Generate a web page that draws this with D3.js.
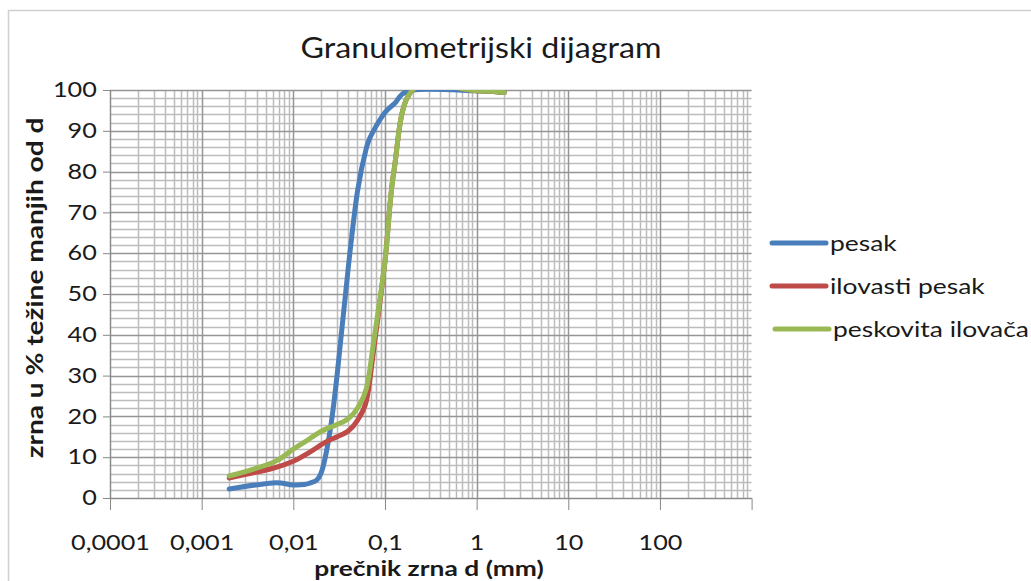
<!DOCTYPE html>
<html>
<head>
<meta charset="utf-8">
<script src="https://cdn.jsdelivr.net/npm/d3@7"></script>
<style>
  body { margin: 0; background: #fff; }
  text { font-family: Lato, "Noto Sans", sans-serif; fill: #1a1a1a; }
</style>
</head>
<body>
<div id="chart"></div>
<script>
// grain diameters (mm) and passing percentages
const diameters = [0.002, 0.006, 0.01, 0.015, 0.02, 0.025, 0.03, 0.04, 0.05, 0.063, 0.075, 0.1, 0.125, 0.2, 1, 2];
const pesak = [2.2, 3.7, 3.2, 3.6, 6, 16, 30, 57, 75, 86, 90, 94.5, 96.5, 100, 99.8, 99.4];
const ilovastiPesak = [4.9, 7.3, 9, 11.2, 13, 14.2, 15, 16.5, 19, 24, 36, 58, 80, 100, 99.8, 99.4];
const peskovitaIlovaca = [5.4, 8.7, 12, 14.5, 16.3, 17.3, 18, 19.5, 22, 27, 38, 58, 80, 100, 99.8, 99.4];

const seriesNames = ["pesak", "ilovasti pesak", "peskovita ilovača"];
const seriesColors = ["#4a7ebb", "#be4b48", "#98b954"];

const xTickValues = [0.0001, 0.001, 0.01, 0.1, 1, 10, 100];
const xTickLabels = ["0,0001", "0,001", "0,01", "0,1", "1", "10", "100"];
const yTickValues = [0, 10, 20, 30, 40, 50, 60, 70, 80, 90, 100];

const W = 1031, H = 581;
const plot = {left: 110, right: 751.6, top: 90, bottom: 498};
const stretch = 1.2; // the original text is wider than Lato

const svg = d3.select("#chart").append("svg")
    .attr("width", W).attr("height", H);

// outer chart frame
svg.append("rect")
    .attr("x", 8.5).attr("y", 10.5)
    .attr("width", W + 20).attr("height", H + 20)
    .attr("fill", "none").attr("stroke", "#d0d0d0").attr("stroke-width", 1.5);

const x = d3.scaleLog().domain([0.0001, 1000]).range([plot.left, plot.right]);
const y = d3.scaleLinear().domain([0, 100]).range([plot.bottom, plot.top]);

// grid
const grid = svg.append("g");
const yMinor = d3.range(0, 101, 2).filter(v => v % 10 != 0);
grid.selectAll(".hminor").data(yMinor).join("line")
    .attr("x1", plot.left).attr("x2", plot.right)
    .attr("y1", d => Math.round(y(d)) + 0.5).attr("y2", d => Math.round(y(d)) + 0.5)
    .attr("stroke", "#bcbcbc").attr("stroke-width", 1.5);

const xMinor = [];
xTickValues.forEach(dec => { for (let k = 2; k <= 9; k++) xMinor.push(dec * k); });
grid.selectAll(".vminor").data(xMinor).join("line")
    .attr("y1", plot.top).attr("y2", plot.bottom)
    .attr("x1", d => Math.round(x(d)) + 0.5).attr("x2", d => Math.round(x(d)) + 0.5)
    .attr("stroke", "#bcbcbc").attr("stroke-width", 1.5);

grid.selectAll(".hmajor").data(yTickValues).join("line")
    .attr("x1", plot.left).attr("x2", plot.right)
    .attr("y1", d => Math.round(y(d)) + 0.5).attr("y2", d => Math.round(y(d)) + 0.5)
    .attr("stroke", "#959595").attr("stroke-width", 1.5);

grid.selectAll(".vmajor").data(xTickValues).join("line")
    .attr("y1", plot.top).attr("y2", plot.bottom)
    .attr("x1", d => Math.round(x(d)) + 0.5).attr("x2", d => Math.round(x(d)) + 0.5)
    .attr("stroke", "#959595").attr("stroke-width", 1.5);

// axes
const xAxis = d3.axisBottom(x).tickValues(xTickValues)
    .tickFormat((d, i) => xTickLabels[i]).tickSize(12).tickPadding(25);
const xg = svg.append("g").attr("transform", `translate(0,${plot.bottom})`).call(xAxis);
xg.select(".domain").attr("stroke", "#888");
xg.selectAll(".tick line").attr("stroke", "#888");
xg.selectAll("text").attr("font-size", 21).attr("fill", "#1a1a1a").attr("font-family", "Lato")
    .attr("transform", `scale(${stretch},1)`);

const yAxis = d3.axisLeft(y).tickValues(yTickValues).tickSize(7).tickPadding(4);
const yg = svg.append("g").attr("transform", `translate(${plot.left},0)`).call(yAxis);
yg.select(".domain").attr("stroke", "#888");
yg.selectAll(".tick line").attr("stroke", "#888");
yg.selectAll("text").attr("font-size", 21).attr("fill", "#1a1a1a").attr("font-family", "Lato")
    .attr("transform", `scale(${stretch},1)`);

// lines (clipped to the plot area like the original)
svg.append("clipPath").attr("id", "clip").append("rect")
    .attr("x", plot.left).attr("y", plot.top)
    .attr("width", plot.right - plot.left).attr("height", plot.bottom - plot.top + 6);

const line = d3.line()
    .x(d => x(d[0]))
    .y(d => y(d[1]))
    .curve(d3.curveCatmullRom.alpha(0));

const series = [pesak, ilovastiPesak, peskovitaIlovaca].map(vals => diameters.map((d, i) => [d, vals[i]]));

svg.append("g").attr("clip-path", "url(#clip)")
  .selectAll("path").data(series).join("path")
    .attr("fill", "none")
    .attr("stroke", (d, i) => seriesColors[i])
    .attr("stroke-width", 5)
    .attr("stroke-linecap", "round")
    .attr("d", line);

// title and axis titles
svg.append("text").attr("transform", `translate(481,58) scale(1.15,1)`)
    .attr("text-anchor", "middle").attr("font-size", 28)
    .text("Granulometrijski dijagram");

svg.append("text").attr("transform", "translate(43,288) rotate(-90) scale(1.22,1)")
    .attr("text-anchor", "middle").attr("font-size", 23).attr("font-weight", "bold")
    .text("zrna u % težine manjih od d");

svg.append("text").attr("transform", "translate(429,576) scale(1.32,1)")
    .attr("text-anchor", "middle").attr("font-size", 20).attr("font-weight", "bold")
    .text("prečnik zrna d (mm)");

// legend
const legend = svg.append("g").attr("transform", "translate(770,243)");
const li = legend.selectAll("g").data(seriesNames).join("g")
    .attr("transform", (d, i) => `translate(${i == 2 ? 3 : 0},${i * 43})`);
li.append("line").attr("x1", 2).attr("x2", 56)
    .attr("stroke", (d, i) => seriesColors[i]).attr("stroke-width", 5).attr("stroke-linecap", "round");
li.append("text").attr("transform", `translate(${60},8) scale(${stretch},1)`)
    .attr("font-size", 22).text(d => d);
</script>
</body>
</html>
